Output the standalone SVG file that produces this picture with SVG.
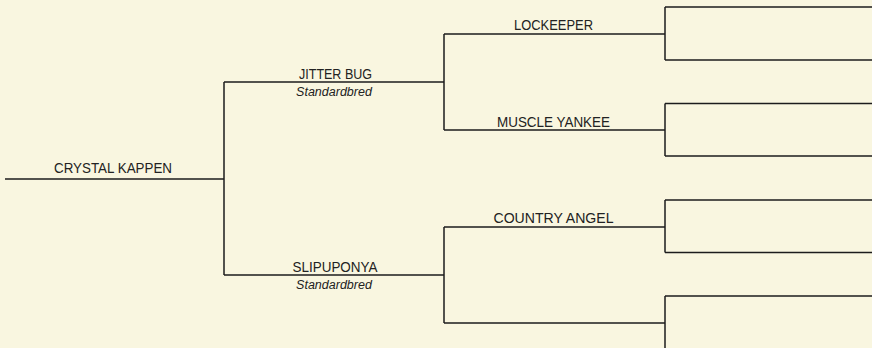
<svg xmlns="http://www.w3.org/2000/svg" width="872" height="348" viewBox="0 0 872 348">
<style>
.bg{fill:#f9f6e0}
.ln{fill:none;stroke:#1c1c1c;stroke-width:1.5}
.nm{font-family:"Liberation Sans",Arial,sans-serif;font-size:14.5px;fill:#222;text-anchor:middle}
.br{font-family:"Liberation Sans",Arial,sans-serif;font-size:12.5px;font-style:italic;fill:#222;text-anchor:middle}
</style>
<rect class="bg" x="0" y="0" width="872" height="348"/>
<g id="connectors" class="ln">
<path d="M5 179H224M224 82V275M224 82H444M224 275H444"/>
<path d="M444 34V130M444 34H665M444 130H665"/>
<path d="M444 227V323M444 227H665M444 323H665"/>
<path d="M665 7V60M665 7H872M665 60H872"/>
<path d="M665 103.5V156M665 103.5H872M665 156H872"/>
<path d="M665 200V252.5M665 200H872M665 252.5H872"/>
<path d="M665 296V349M665 296H872"/>
</g>
<g id="crystal-kappen"><text class="nm" x="113" y="173" textLength="118" lengthAdjust="spacingAndGlyphs">CRYSTAL KAPPEN</text></g>
<g id="jitter-bug"><text class="nm" x="335.5" y="78.5" textLength="73" lengthAdjust="spacingAndGlyphs">JITTER BUG</text><text class="br" x="334" y="95.7">Standardbred</text></g>
<g id="slipuponya"><text class="nm" x="335" y="271.5" textLength="85" lengthAdjust="spacingAndGlyphs">SLIPUPONYA</text><text class="br" x="334" y="288.5">Standardbred</text></g>
<g id="lockeeper"><text class="nm" x="553.5" y="29.5" textLength="79" lengthAdjust="spacingAndGlyphs">LOCKEEPER</text></g>
<g id="muscle-yankee"><text class="nm" x="553.5" y="126.7" textLength="113" lengthAdjust="spacingAndGlyphs">MUSCLE YANKEE</text></g>
<g id="country-angel"><text class="nm" x="553.5" y="223.3" textLength="120" lengthAdjust="spacingAndGlyphs">COUNTRY ANGEL</text></g>
</svg>
